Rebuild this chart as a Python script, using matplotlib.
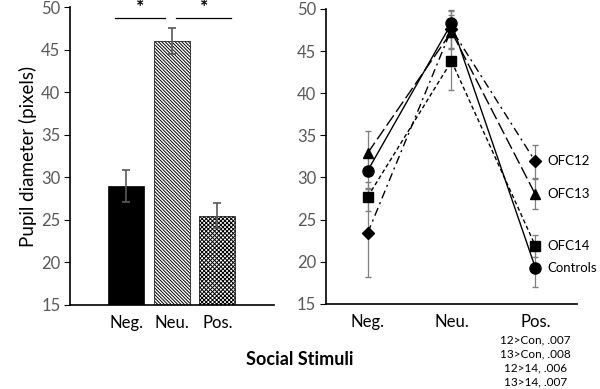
import numpy as np
import matplotlib
matplotlib.use('Agg')
import matplotlib.pyplot as plt

plt.rcParams['font.family'] = ['Lato', 'DejaVu Sans']
plt.rcParams['hatch.linewidth'] = 0.7

# Left panel: group means
categories = ['Neg.', 'Neu.', 'Pos.']
bar_means = [29.0, 46.0, 25.5]
bar_err = [1.85, 1.5, 1.5]

# Right panel: per group lines
groups = ['OFC12', 'OFC13', 'OFC14', 'Controls']
group_means = {
    'OFC12': [23.4, 47.6, 31.9],
    'OFC13': [32.9, 47.3, 28.0],
    'OFC14': [27.7, 43.8, 21.9],
    'Controls': [30.8, 48.3, 19.3],
}
group_err = {
    'OFC12': [5.2, 2.2, 2.0],
    'OFC13': [2.6, 2.0, 1.8],
    'OFC14': [1.7, 3.4, 1.3],
    'Controls': [2.0, 1.6, 2.3],
}
pos_notes = ['12>Con, .007', '13>Con, .008', '12>14, .006', '13>14, .007']

grey = '#595959'
fig = plt.figure(figsize=(6, 3.89), dpi=100)
ax1 = fig.add_axes([0.117, 0.216, 0.340, 0.766])
ax2 = fig.add_axes([0.543, 0.219, 0.419, 0.758])

x = np.arange(len(categories))

# ---- bars
hatches = [None, '\\\\\\\\\\\\\\\\\\\\', 'xxxxxxxx']
faces = ['black', 'white', 'white']
for i in range(len(categories)):
    ax1.bar(x[i], bar_means[i], width=0.79, bottom=0, color=faces[i],
            edgecolor='black', linewidth=0.5, hatch=hatches[i], zorder=2)
ax1.errorbar(x, bar_means, yerr=bar_err, fmt='none', ecolor=grey,
             elinewidth=1.2, capsize=3, capthick=1.2, zorder=3)

# significance markers
for (a, b) in [(-0.24, 0.86), (1.10, 2.31)]:
    ax1.plot([a, b], [48.7, 48.7], color='black', lw=0.9, clip_on=False)
    ax1.text((a + b) / 2, 48.9, '*', ha='center', va='bottom',
             fontsize=14, fontweight='bold')

ax1.set_xlim(-1.23, 3.25)
ax1.set_ylim(15, 50)
ax1.set_yticks(np.arange(15, 51, 5))
ax1.set_xticks(x)
ax1.set_xticklabels(categories)
ax1.set_ylabel('Pupil diameter (pixels)', fontsize=13.5, color='black', labelpad=3)

# ---- lines
styles = {
    'OFC12': dict(marker='D', ls=(0, (6, 3, 1.5, 3)), ms=6),
    'OFC13': dict(marker='^', ls=(0, (9, 3)), ms=7),
    'OFC14': dict(marker='s', ls=(0, (3, 2)), ms=7),
    'Controls': dict(marker='o', ls='-', ms=8),
}
for g in groups:
    ax2.errorbar(x, group_means[g], yerr=group_err[g], fmt='none',
                 ecolor='#7f7f7f', elinewidth=0.9, capsize=2.5, zorder=2)
for g in groups:
    st = styles[g]
    ax2.plot(x, group_means[g], color='black', lw=1.0, linestyle=st['ls'],
             marker=st['marker'], markersize=st['ms'], zorder=3)
    ax2.text(x[-1] + 0.14, group_means[g][-1], g, va='center', ha='left',
             fontsize=9.5, color='black')

ax2.set_xlim(-0.5, 2.5)
ax2.set_ylim(15, 50)
ax2.set_yticks(np.arange(15, 51, 5))
ax2.set_xticks(x)
ax2.set_xticklabels(categories)

for i, note in enumerate(pos_notes):
    ax2.text(x[-1], 10.7 - i * 1.65, note, ha='center', va='center',
             fontsize=8.5, clip_on=False)

for ax in (ax1, ax2):
    for s in ['top', 'right']:
        ax.spines[s].set_visible(False)
    ax.spines['left'].set_color('black')
    ax.spines['bottom'].set_color('black')
    ax.spines['left'].set_linewidth(1.2)
    ax.spines['bottom'].set_linewidth(1.2)
    ax.tick_params(axis='y', labelsize=12, colors='black', length=4,
                   direction='out', labelcolor=grey, pad=3)
    ax.tick_params(axis='x', length=0, labelsize=12, labelcolor='black', pad=7)

fig.text(0.5, 0.077, 'Social Stimuli', ha='center', va='center',
         fontsize=13, fontweight='bold')

fig.savefig('out.png', dpi=100)
